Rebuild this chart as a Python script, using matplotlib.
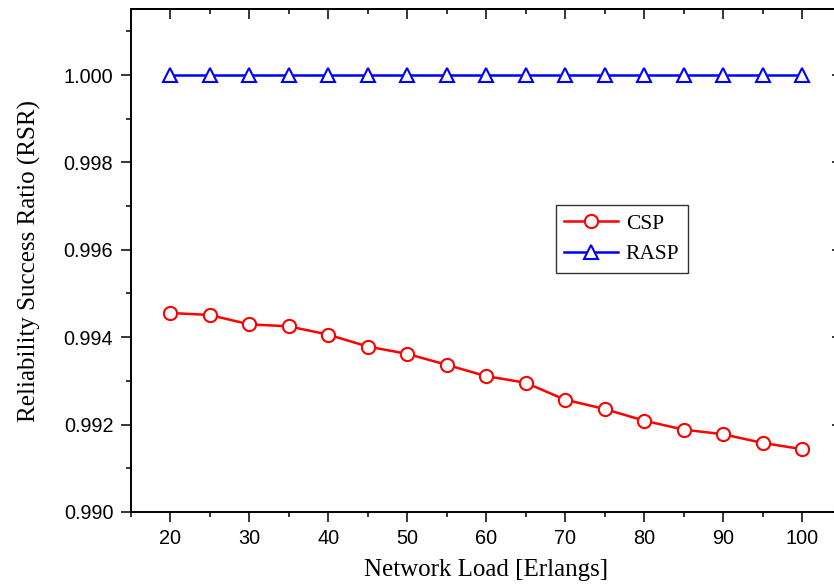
import matplotlib
matplotlib.use("Agg")
import matplotlib.pyplot as plt
from matplotlib.ticker import MultipleLocator, FormatStrFormatter

# data
load = [20, 25, 30, 35, 40, 45, 50, 55, 60, 65, 70, 75, 80, 85, 90, 95, 100]
csp = [0.994554, 0.994508, 0.994294, 0.994249, 0.994059, 0.993786, 0.993619,
       0.993368, 0.993109, 0.992957, 0.992569, 0.992357, 0.992090, 0.991885,
       0.991779, 0.991581, 0.991437]
rasp = [1.0] * len(load)

SANS = "Liberation Sans"
SERIF = "Liberation Serif"

fig = plt.figure(figsize=(8.34, 5.88), dpi=100)
ax = fig.add_axes([0.1567, 0.1293, 0.8523, 0.8546])

ax.plot(load, csp, color="#ff0000", lw=1.8, marker="o", ms=9.5,
        mfc="white", mec="#ff0000", mew=1.5, label="CSP")
ax.plot(load, rasp, color="#0000ff", lw=1.8, marker="^", ms=10.5,
        mfc="white", mec="#0000ff", mew=1.5, label="RASP")

ax.set_xlim(15, 105)
ax.set_ylim(0.990, 1.0015)
ax.xaxis.set_major_locator(MultipleLocator(10))
ax.xaxis.set_minor_locator(MultipleLocator(5))
ax.yaxis.set_major_locator(MultipleLocator(0.002))
ax.yaxis.set_minor_locator(MultipleLocator(0.001))
ax.yaxis.set_major_formatter(FormatStrFormatter("%.3f"))

ax.tick_params(which="major", direction="out", length=7.5, width=1.1,
               labelsize=14.3, pad=5)
ax.tick_params(which="minor", direction="out", length=3.8, width=1.1)
for lab in ax.get_xticklabels() + ax.get_yticklabels():
    lab.set_family(SANS)

for sp in ax.spines.values():
    sp.set_linewidth(1.4)

# top and right ticks point inward, without labels
top = ax.secondary_xaxis("top")
top.xaxis.set_major_locator(MultipleLocator(10))
top.xaxis.set_minor_locator(MultipleLocator(5))
top.tick_params(which="major", direction="in", length=7.5, width=1.1, labeltop=False)
top.tick_params(which="minor", direction="in", length=3.8, width=1.1)
top.spines["top"].set_linewidth(1.4)
right = ax.secondary_yaxis("right")
right.yaxis.set_major_locator(MultipleLocator(0.002))
right.yaxis.set_minor_locator(MultipleLocator(0.001))
right.tick_params(which="major", direction="in", length=7.5, width=1.1, labelright=False)
right.tick_params(which="minor", direction="in", length=3.8, width=1.1)
right.spines["right"].set_linewidth(1.4)

ax.set_xlabel("Network Load [Erlangs]", family=SERIF, fontsize=18, labelpad=8)
ax.set_ylabel("Reliability Success Ratio (RSR)", family=SERIF, fontsize=18, labelpad=16)

leg = ax.legend(loc="upper left", bbox_to_anchor=(0.598, 0.611), borderaxespad=0,
                prop={"family": SERIF, "size": 15.5}, handlelength=2.5,
                fancybox=False, frameon=True, borderpad=0.4, labelspacing=0.5,
                handletextpad=0.35)
leg.get_frame().set_edgecolor("black")
leg.get_frame().set_linewidth(1.0)

fig.savefig("out.png", dpi=100, facecolor="white")
